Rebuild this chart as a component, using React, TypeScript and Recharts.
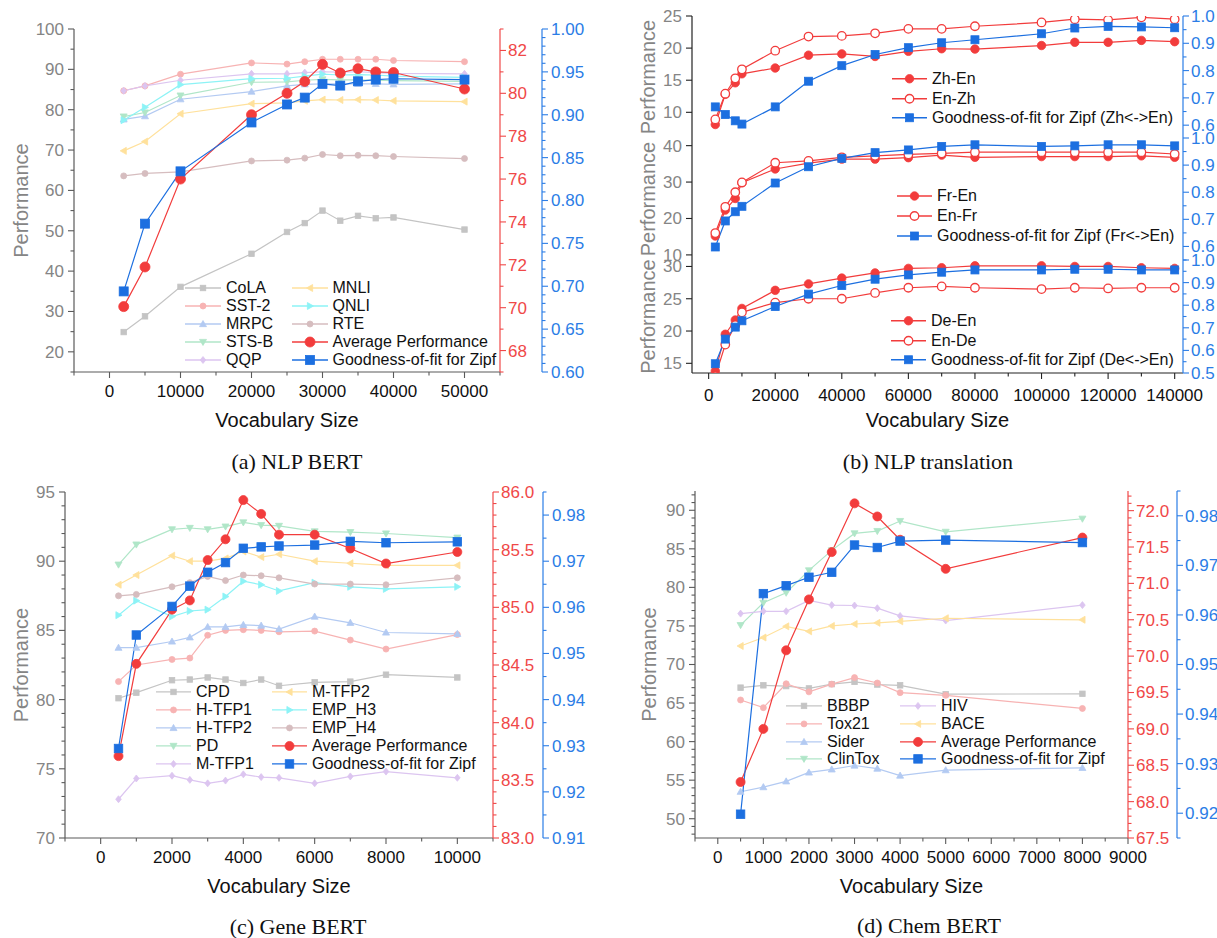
import React from "react";
import { LineChart, Line, XAxis, YAxis, Legend } from "recharts";

type Shape = "circle" | "square" | "up" | "down" | "left" | "right" | "diamond";

const FONT = '"Liberation Sans", Arial, sans-serif';
const RED = "#f23c3c";
const BLUE = "#1c6fe0";
const RED_AX = "#f04848";
const BLUE_AX = "#2b7de6";
const GRAY_TXT = "#858585";
const FRAME = "#5a5a5a";

const C_GRAY = "#c4c4c4";
const C_PINK = "#f7b3b3";
const C_LBLUE = "#b3caf2";
const C_GREEN = "#b0e6c8";
const C_LAV = "#dcc5f0";
const C_YEL = "#ffe19c";
const C_CYAN = "#8df3f6";
const C_MAUVE = "#d6bdbf";

// (a) NLP BERT
const vocabA = [2000, 5000, 10000, 20000, 25000, 27500, 30000, 32500, 35000, 37500, 40000, 50000];
const cola = [24.9, 28.8, 36.1, 44.3, 49.7, 51.9, 55.0, 52.5, 53.7, 53.1, 53.3, 50.3];
const sst2 = [84.7, 85.9, 88.8, 91.6, 91.3, 91.9, 92.5, 92.5, 92.5, 92.5, 92.2, 91.9];
const mrpc = [77.6, 78.4, 82.6, 84.5, 85.9, 86.3, 86.4, 86.4, 86.4, 86.4, 86.3, 86.4];
const stsb = [78.3, 79.3, 83.5, 86.8, 86.9, 87.3, 87.5, 87.4, 87.4, 87.3, 87.2, 87.0];
const qqp = [84.7, 85.9, 87.3, 88.9, 88.9, 89.2, 89.4, 89.3, 89.4, 89.2, 89.0, 88.9];
const mnli = [69.8, 72.1, 79.0, 81.5, 81.7, 82.2, 82.5, 82.4, 82.5, 82.4, 82.2, 82.0];
const qnli = [77.4, 80.6, 86.2, 87.7, 87.8, 88.3, 88.8, 88.6, 88.7, 88.6, 88.3, 88.0];
const rte = [63.6, 64.2, 64.6, 67.3, 67.5, 68.0, 68.9, 68.6, 68.7, 68.6, 68.4, 67.9];
const avgA = [70.05, 71.9, 76.0, 79.0, 80.0, 80.55, 81.35, 80.95, 81.15, 81.0, 80.97, 80.2];
const zipfA = [0.694, 0.773, 0.834, 0.891, 0.912, 0.92, 0.936, 0.934, 0.939, 0.941, 0.942, 0.941];

// (b) NLP translation
const vocabB = [2000, 5000, 8000, 10000, 20000, 30000, 40000, 50000, 60000, 70000, 80000, 100000, 110000, 120000, 130000, 140000];
const zhEn = [8.1, 12.8, 14.6, 16.0, 16.9, 18.9, 19.1, 18.7, 19.5, 19.9, 19.85, 20.4, 20.9, 20.9, 21.2, 21.0];
const enZh = [8.9, 12.9, 15.3, 16.7, 19.6, 21.8, 21.9, 22.3, 23.0, 23.0, 23.4, 24.0, 24.5, 24.4, 24.8, 24.5];
const zipfZh = [0.667, 0.639, 0.616, 0.604, 0.667, 0.761, 0.818, 0.859, 0.884, 0.902, 0.913, 0.935, 0.956, 0.962, 0.96, 0.957];
const frEn = [15.2, 22.3, 25.5, 29.8, 33.6, 35.2, 36.3, 36.3, 36.7, 37.4, 36.8, 37.0, 37.0, 37.0, 37.2, 36.8];
const enFr = [16.0, 23.2, 27.2, 29.9, 35.3, 35.8, 36.8, 37.2, 37.6, 37.9, 38.2, 38.2, 38.2, 38.2, 38.2, 37.7];
const zipfFr = [0.598, 0.694, 0.728, 0.748, 0.834, 0.894, 0.925, 0.946, 0.956, 0.969, 0.975, 0.969, 0.971, 0.975, 0.975, 0.971];
const deEn = [13.8, 19.5, 21.7, 23.5, 26.3, 27.3, 28.2, 29.0, 29.7, 29.8, 30.1, 30.1, 30.0, 30.0, 29.8, 29.7];
const enDe = [13.0, 17.9, 20.9, 22.9, 24.4, 25.0, 25.0, 25.9, 26.7, 26.9, 26.7, 26.5, 26.7, 26.6, 26.7, 26.7];
const zipfDe = [0.541, 0.65, 0.703, 0.731, 0.794, 0.849, 0.887, 0.915, 0.934, 0.946, 0.956, 0.956, 0.959, 0.959, 0.956, 0.956];

// (c) Gene BERT
const vocabC = [500, 1000, 2000, 2500, 3000, 3500, 4000, 4500, 5000, 6000, 7000, 8000, 10000];
const cpd = [80.1, 80.5, 81.4, 81.45, 81.6, 81.45, 81.2, 81.45, 81.0, 81.25, 81.3, 81.8, 81.6];
const htfp1 = [81.3, 82.5, 82.9, 83.0, 84.65, 85.0, 85.05, 85.0, 84.9, 84.95, 84.3, 83.65, 84.7];
const htfp2 = [83.75, 83.75, 84.2, 84.5, 85.25, 85.25, 85.4, 85.35, 85.1, 86.0, 85.55, 84.85, 84.75];
const pd = [89.75, 91.2, 92.3, 92.4, 92.3, 92.5, 92.8, 92.6, 92.55, 92.15, 92.1, 92.0, 91.7];
const mtfp1 = [72.8, 74.3, 74.5, 74.2, 73.95, 74.15, 74.6, 74.4, 74.35, 73.95, 74.45, 74.8, 74.35];
const mtfp2 = [88.3, 89.0, 90.4, 90.0, 90.0, 90.2, 90.7, 90.3, 90.5, 90.0, 89.85, 89.7, 89.7];
const empH3 = [86.1, 87.15, 86.0, 86.4, 86.5, 87.45, 88.55, 88.3, 87.85, 88.45, 88.15, 88.0, 88.15];
const empH4 = [87.5, 87.6, 88.15, 88.45, 88.9, 88.6, 89.0, 88.95, 88.8, 88.35, 88.35, 88.3, 88.8];
const avgC = [83.71, 84.51, 84.98, 85.06, 85.41, 85.59, 85.93, 85.81, 85.63, 85.63, 85.51, 85.38, 85.48];
const zipfC = [0.9294, 0.954, 0.9602, 0.9646, 0.9676, 0.9697, 0.9728, 0.9731, 0.9733, 0.9735, 0.9743, 0.974, 0.9742];

// (d) Chem BERT
const vocabD = [500, 1000, 1500, 2000, 2500, 3000, 3500, 4000, 5000, 8000];
const bbbp = [67.0, 67.3, 67.2, 66.9, 67.45, 67.75, 67.4, 67.3, 66.15, 66.2];
const tox21 = [65.4, 64.4, 67.5, 66.45, 67.45, 68.3, 67.6, 66.35, 66.0, 64.3];
const sider = [53.5, 54.1, 54.85, 56.0, 56.4, 56.9, 56.5, 55.6, 56.3, 56.6];
const clintox = [75.1, 78.0, 79.3, 82.2, 84.8, 87.0, 87.3, 88.6, 87.2, 88.9];
const hiv = [76.6, 76.9, 76.9, 78.3, 77.7, 77.65, 77.3, 76.3, 75.7, 77.7];
const bace = [72.4, 73.5, 74.95, 74.3, 75.0, 75.25, 75.4, 75.6, 76.0, 75.8];
const avgD = [68.27, 69.0, 70.08, 70.78, 71.43, 72.1, 71.92, 71.6, 71.2, 71.63];
const zipfD = [0.9198, 0.9643, 0.9659, 0.9676, 0.9686, 0.9741, 0.9736, 0.9749, 0.9751, 0.9746];

const steps = (a: number, b: number, s: number) => {
  const out: number[] = [];
  for (let v = a; v <= b + s * 1e-6; v += s) out.push(Math.round(v * 1e6) / 1e6);
  return out;
};
const without = (arr: number[], skip: number[]) =>
  arr.filter((v) => !skip.some((m) => Math.abs(m - v) < 1e-7));

const Marker = ({ cx, cy, shape, color, size, open }: any) => {
  const r = size / 2;
  const fill = open ? "#fff" : color;
  const sw = open ? 1.3 : 0.8;
  if (shape === "circle") return <circle cx={cx} cy={cy} r={r} fill={fill} stroke={color} strokeWidth={sw} />;
  if (shape === "square") return <rect x={cx - r} y={cy - r} width={size} height={size} fill={fill} stroke={color} strokeWidth={sw} />;
  let pts = "";
  if (shape === "up") pts = `${cx},${cy - r} ${cx + r},${cy + r * 0.75} ${cx - r},${cy + r * 0.75}`;
  if (shape === "down") pts = `${cx},${cy + r} ${cx + r},${cy - r * 0.75} ${cx - r},${cy - r * 0.75}`;
  if (shape === "left") pts = `${cx - r},${cy} ${cx + r * 0.75},${cy - r} ${cx + r * 0.75},${cy + r}`;
  if (shape === "right") pts = `${cx + r},${cy} ${cx - r * 0.75},${cy - r} ${cx - r * 0.75},${cy + r}`;
  if (shape === "diamond") pts = `${cx},${cy - r} ${cx + r * 0.8},${cy} ${cx},${cy + r} ${cx - r * 0.8},${cy}`;
  return <polygon points={pts} fill={fill} stroke={color} strokeWidth={sw} />;
};

const makeTick = (
  side: "left" | "right" | "bottom" | "top",
  dir: "in" | "out",
  majors: number[],
  opts: { text: string; line: string; gap: number; fmt: (v: number) => string; labels: boolean; fontSize?: number }
) => (props: any) => {
  const { x, y, payload, index } = props;
  const v = payload.value;
  const major = majors.some((m) => Math.abs(m - v) < 1e-7);
  const len = major ? 6 : 3.5;
  const s = dir === "out" ? 1 : -1;
  const fs = opts.fontSize ?? 17;
  let ln = null;
  let lb = null;
  if (side === "left") {
    ln = <line x1={x} x2={x - s * len} y1={y} y2={y} stroke={opts.line} strokeWidth={1.1} />;
    if (major && opts.labels)
      lb = <text x={x - opts.gap} y={y} dy="0.35em" textAnchor="end" fill={opts.text} fontSize={fs}>{opts.fmt(v)}</text>;
  } else if (side === "right") {
    ln = <line x1={x} x2={x + s * len} y1={y} y2={y} stroke={opts.line} strokeWidth={1.1} />;
    if (major && opts.labels)
      lb = <text x={x + opts.gap} y={y} dy="0.35em" textAnchor="start" fill={opts.text} fontSize={fs}>{opts.fmt(v)}</text>;
  } else if (side === "bottom") {
    ln = <line x1={x} x2={x} y1={y} y2={y + s * len} stroke={opts.line} strokeWidth={1.1} />;
    if (major && opts.labels)
      lb = <text x={x} y={y + opts.gap} dy="0.35em" textAnchor="middle" fill={opts.text} fontSize={fs}>{opts.fmt(v)}</text>;
  } else {
    ln = <line x1={x} x2={x} y1={y} y2={y - s * len} stroke={opts.line} strokeWidth={1.1} />;
  }
  return (
    <g key={`t-${side}-${index}`}>
      {ln}
      {lb}
    </g>
  );
};

interface Series {
  key: string;
  name: string;
  y: string;
  color: string;
  shape: Shape;
  size: number;
  open?: boolean;
}

interface AxisCfg {
  id: string;
  domain: [number, number];
  majors: number[];
  minors: number[];
  width: number;
  text: string;
  line: string;
  gap: number;
  fmt: (v: number) => string;
}

const LegendBox = ({ cols, colX, rowH, lineW }: any) => (
  <div style={{ position: "relative", fontFamily: FONT, fontSize: 16, color: "#111" }}>
    {cols.map((col: Series[], ci: number) =>
      col.map((s: Series, ri: number) => (
        <div
          key={s.key}
          style={{
            position: "absolute",
            left: colX[ci],
            top: ri * rowH,
            height: rowH,
            display: "flex",
            alignItems: "center",
            whiteSpace: "nowrap",
          }}
        >
          <svg width={lineW} height={rowH} style={{ overflow: "visible" }}>
            <line x1={0} x2={lineW} y1={rowH / 2} y2={rowH / 2} stroke={s.color} strokeWidth={1.3} />
            <Marker cx={lineW / 2} cy={rowH / 2} shape={s.shape} color={s.color} size={s.size} open={s.open} />
          </svg>
          <span style={{ marginLeft: 5, lineHeight: `${rowH}px` }}>{s.name}</span>
        </div>
      ))
    )}
  </div>
);

const Panel = (p: any) => {
  const xt = [...p.x.majors, ...p.x.minors].sort((a: number, b: number) => a - b);
  const yTicks = (a: AxisCfg) => [...a.majors, ...a.minors].sort((u, v) => u - v);
  const yl: AxisCfg & { title: string; titleX: number } = p.yLeft;
  return (
    <div style={{ position: "absolute", left: p.left, top: p.top }}>
      <LineChart width={p.width} height={p.height} data={p.rows} margin={{ top: p.marginTop, right: 0, bottom: 0, left: 0 }}>
        <XAxis
          dataKey="x"
          type="number"
          domain={p.x.domain}
          allowDataOverflow
          ticks={xt}
          interval={0}
          height={p.x.height}
          tickSize={0}
          tickMargin={0}
          tickLine={false}
          axisLine={{ stroke: p.x.line, strokeWidth: 1.2 }}
          tick={makeTick("bottom", p.x.dir, p.x.majors, {
            text: "#111",
            line: p.x.line,
            gap: p.x.gap,
            fmt: (v) => String(v),
            labels: p.x.labels,
          })}
          label={
            p.x.title
              ? { value: p.x.title, position: "insideBottom", offset: p.x.titleOffset, fill: "#111", fontSize: 20 }
              : undefined
          }
        />
        {p.x.frame && (
          <XAxis
            xAxisId="top"
            orientation="top"
            dataKey="x"
            type="number"
            domain={p.x.domain}
            allowDataOverflow
            ticks={xt}
            interval={0}
            height={0}
            tickSize={0}
            tickMargin={0}
            tickLine={false}
            axisLine={{ stroke: p.x.line, strokeWidth: 1.2 }}
            tick={makeTick("top", "in", p.x.majors, {
              text: "#111",
              line: p.x.line,
              gap: 0,
              fmt: (v) => String(v),
              labels: false,
            })}
          />
        )}
        <YAxis
          yAxisId="l"
          type="number"
          domain={yl.domain}
          allowDataOverflow
          ticks={yTicks(yl)}
          interval={0}
          width={yl.width}
          tickSize={0}
          tickMargin={0}
          tickLine={false}
          axisLine={{ stroke: yl.line, strokeWidth: 1.2 }}
          tick={makeTick("left", "out", yl.majors, { text: yl.text, line: yl.line, gap: yl.gap, fmt: yl.fmt, labels: true })}
          label={{
            value: yl.title,
            angle: -90,
            position: "insideLeft",
            offset: yl.titleX,
            style: { textAnchor: "middle" },
            fill: GRAY_TXT,
            fontSize: 20,
          }}
        />
        {p.yRight.map((a: AxisCfg) => (
          <YAxis
            key={a.id}
            yAxisId={a.id}
            orientation="right"
            type="number"
            domain={a.domain}
            allowDataOverflow
            ticks={yTicks(a)}
            interval={0}
            width={a.width}
            tickSize={0}
            tickMargin={0}
            tickLine={false}
            axisLine={{ stroke: a.line, strokeWidth: 1.2 }}
            tick={makeTick("right", "out", a.majors, { text: a.text, line: a.line, gap: a.gap, fmt: a.fmt, labels: true })}
          />
        ))}
        {p.series.map((s: Series) => (
          <Line
            key={s.key}
            yAxisId={s.y}
            dataKey={s.key}
            name={s.name}
            type="linear"
            stroke={s.color}
            strokeWidth={1.2}
            isAnimationActive={false}
            activeDot={false}
            dot={(d: any) => (
              <Marker key={`${s.key}-${d.index}`} cx={d.cx} cy={d.cy} shape={s.shape} color={s.color} size={s.size} open={s.open} />
            )}
          />
        ))}
        <Legend
          layout="horizontal"
          verticalAlign="middle"
          align="center"
          wrapperStyle={{ left: p.legend.left, top: p.legend.top, width: 320, height: 100 }}
          content={() => (
            <LegendBox cols={p.legend.cols} colX={p.legend.colX} rowH={p.legend.rowH} lineW={p.legend.lineW} />
          )}
        />
      </LineChart>
    </div>
  );
};

const toRows = (xs: number[], cols: Record<string, number[]>) =>
  xs.map((x, i) => {
    const r: Record<string, number> = { x };
    Object.keys(cols).forEach((k) => (r[k] = cols[k][i]));
    return r;
  });

const int = (v: number) => String(v);
const f1 = (v: number) => v.toFixed(1);
const f2 = (v: number) => v.toFixed(2);

// ---- panel (a)
const seriesA: Series[] = [
  { key: "cola", name: "CoLA", y: "l", color: C_GRAY, shape: "square", size: 5.5 },
  { key: "sst2", name: "SST-2", y: "l", color: C_PINK, shape: "circle", size: 6 },
  { key: "mrpc", name: "MRPC", y: "l", color: C_LBLUE, shape: "up", size: 7 },
  { key: "stsb", name: "STS-B", y: "l", color: C_GREEN, shape: "down", size: 7 },
  { key: "qqp", name: "QQP", y: "l", color: C_LAV, shape: "diamond", size: 7 },
  { key: "mnli", name: "MNLI", y: "l", color: C_YEL, shape: "left", size: 7 },
  { key: "qnli", name: "QNLI", y: "l", color: C_CYAN, shape: "right", size: 7 },
  { key: "rte", name: "RTE", y: "l", color: C_MAUVE, shape: "circle", size: 6 },
  { key: "avg", name: "Average Performance", y: "r", color: RED, shape: "circle", size: 10 },
  { key: "zipf", name: "Goodness-of-fit for Zipf", y: "z", color: BLUE, shape: "square", size: 9 },
];

// ---- panel (c)
const seriesC: Series[] = [
  { key: "cpd", name: "CPD", y: "l", color: C_GRAY, shape: "square", size: 5.5 },
  { key: "htfp1", name: "H-TFP1", y: "l", color: C_PINK, shape: "circle", size: 6 },
  { key: "htfp2", name: "H-TFP2", y: "l", color: C_LBLUE, shape: "up", size: 7 },
  { key: "pd", name: "PD", y: "l", color: C_GREEN, shape: "down", size: 7 },
  { key: "mtfp1", name: "M-TFP1", y: "l", color: C_LAV, shape: "diamond", size: 7 },
  { key: "mtfp2", name: "M-TFP2", y: "l", color: C_YEL, shape: "left", size: 7 },
  { key: "empH3", name: "EMP_H3", y: "l", color: C_CYAN, shape: "right", size: 7 },
  { key: "empH4", name: "EMP_H4", y: "l", color: C_MAUVE, shape: "circle", size: 6 },
  { key: "avg", name: "Average Performance", y: "r", color: RED, shape: "circle", size: 9 },
  { key: "zipf", name: "Goodness-of-fit for Zipf", y: "z", color: BLUE, shape: "square", size: 8.5 },
];

// ---- panel (d)
const seriesD: Series[] = [
  { key: "bbbp", name: "BBBP", y: "l", color: C_GRAY, shape: "square", size: 5.5 },
  { key: "tox21", name: "Tox21", y: "l", color: C_PINK, shape: "circle", size: 6 },
  { key: "sider", name: "Sider", y: "l", color: C_LBLUE, shape: "up", size: 7 },
  { key: "clintox", name: "ClinTox", y: "l", color: C_GREEN, shape: "down", size: 7 },
  { key: "hiv", name: "HIV", y: "l", color: C_LAV, shape: "diamond", size: 7 },
  { key: "bace", name: "BACE", y: "l", color: C_YEL, shape: "left", size: 7 },
  { key: "avg", name: "Average Performance", y: "r", color: RED, shape: "circle", size: 9 },
  { key: "zipf", name: "Goodness-of-fit for Zipf", y: "z", color: BLUE, shape: "square", size: 8.5 },
];

const transSeries = (a: string, b: string, pair: string): Series[] => [
  { key: "fwd", name: a, y: "l", color: RED, shape: "circle", size: 8.5 },
  { key: "bwd", name: b, y: "l", color: RED, shape: "circle", size: 8.5, open: true },
  { key: "zipf", name: `Goodness-of-fit for Zipf (${pair})`, y: "z", color: BLUE, shape: "square", size: 8 },
];

const leftAx = (domain: [number, number], majors: number[], minors: number[], width: number, line: string, titleX: number) => ({
  id: "l",
  domain,
  majors,
  minors: without(minors, majors),
  width,
  text: GRAY_TXT,
  line,
  gap: 10,
  fmt: int,
  title: "Performance",
  titleX,
});
const rightAx = (id: string, domain: [number, number], majors: number[], minors: number[], width: number, color: string, fmt: (v: number) => string, gap: number): AxisCfg => ({
  id,
  domain,
  majors,
  minors: without(minors, majors),
  width,
  text: color,
  line: color,
  gap,
  fmt,
});

const B_X_MAJ = steps(0, 140000, 20000);
const B_X_MIN = without(steps(10000, 140000, 20000), B_X_MAJ);

const BTrans = ({ top, height, marginTop, xHeight, bottom, rows, domL, majL, domR, majR, minR, a, b, pair, legendTop, legendLeft, rowH }: any) => (
  <Panel
    left={620}
    top={top}
    width={597}
    height={height}
    marginTop={marginTop}
    rows={rows}
    x={{
      domain: [-5000, 142500],
      majors: B_X_MAJ,
      minors: B_X_MIN,
      height: xHeight,
      labels: bottom,
      dir: bottom ? "out" : "in",
      gap: 22,
      line: "#222",
      frame: top === 0,
      title: bottom ? "Vocabulary Size" : undefined,
      titleOffset: 18,
    }}
    yLeft={leftAx(domL, majL, [], 72, "#222", 28)}
    yRight={[rightAx("z", domR, majR, minR, 34, BLUE_AX, f1, 8)]}
    series={transSeries(a, b, pair)}
    legend={{ left: legendLeft, top: legendTop, rowH, colX: [0], lineW: 35, cols: [transSeries(a, b, pair)] }}
  />
);

const Caption = ({ x, y, text }: any) => (
  <div
    style={{
      position: "absolute",
      left: x - 150,
      top: y - 14,
      width: 300,
      textAlign: "center",
      fontFamily: '"Liberation Serif", "Times New Roman", serif',
      fontSize: 22,
      lineHeight: "28px",
      color: "#111",
    }}
  >
    {text}
  </div>
);

export default function App() {
  const rowsA = toRows(vocabA, { cola, sst2, mrpc, stsb, qqp, mnli, qnli, rte, avg: avgA, zipf: zipfA });
  const rowsC = toRows(vocabC, { cpd, htfp1, htfp2, pd, mtfp1, mtfp2, empH3, empH4, avg: avgC, zipf: zipfC });
  const rowsD = toRows(vocabD, { bbbp, tox21, sider, clintox, hiv, bace, avg: avgD, zipf: zipfD });
  const rowsZh = toRows(vocabB, { fwd: zhEn, bwd: enZh, zipf: zipfZh });
  const rowsFr = toRows(vocabB, { fwd: frEn, bwd: enFr, zipf: zipfFr });
  const rowsDe = toRows(vocabB, { fwd: deEn, bwd: enDe, zipf: zipfDe });

  return (
    <div style={{ position: "absolute", left: 0, top: 0, width: 1217, height: 938, background: "#fff", fontFamily: FONT }}>
      <style>{`.recharts-surface{overflow:visible}.recharts-wrapper text{font-family:${FONT}}`}</style>

      <Panel
        left={0}
        top={0}
        width={600}
        height={445}
        marginTop={29}
        rows={rowsA}
        x={{
          domain: [-5000, 55000],
          majors: steps(0, 50000, 10000),
          minors: steps(-5000, 55000, 10000),
          height: 73,
          labels: true,
          dir: "out",
          gap: 19,
          line: FRAME,
          frame: true,
          title: "Vocabulary Size",
          titleOffset: 18,
        }}
        yLeft={leftAx([15, 100], steps(20, 100, 10), steps(15, 95, 10), 74, FRAME, 21)}
        yRight={[
          rightAx("r", [67, 83], steps(68, 82, 2), steps(67, 83, 1), 42, RED_AX, int, 8),
          rightAx("z", [0.6, 1.0], steps(0.6, 1.0, 0.05), steps(0.6, 1.0, 0.01), 58, BLUE_AX, f2, 9),
        ]}
        series={seriesA}
        legend={{ left: 185, top: 279, rowH: 18, colX: [0, 106.5], lineW: 36, cols: [seriesA.slice(0, 5), seriesA.slice(5)] }}
      />

      <BTrans
        top={0}
        height={138}
        marginTop={16}
        xHeight={0}
        bottom={false}
        rows={rowsZh}
        domL={[6, 25]}
        majL={steps(10, 25, 5)}
        domR={[0.553, 1.0]}
        majR={steps(0.6, 1.0, 0.1)}
        minR={steps(0.65, 0.95, 0.1)}
        a="Zh-En"
        b="En-Zh"
        pair="Zh<->En"
        legendLeft={272}
        legendTop={69}
        rowH={19.5}
      />
      <BTrans
        top={138}
        height={122}
        marginTop={0}
        xHeight={0}
        bottom={false}
        rows={rowsFr}
        domL={[8.6, 42.1]}
        majL={steps(10, 40, 10)}
        domR={[0.55, 1.0]}
        majR={steps(0.6, 1.0, 0.1)}
        minR={steps(0.55, 0.95, 0.1)}
        a="Fr-En"
        b="En-Fr"
        pair="Fr<->En"
        legendLeft={277}
        legendTop={48}
        rowH={20}
      />
      <BTrans
        top={260}
        height={185}
        marginTop={0}
        xHeight={72}
        bottom={true}
        rows={rowsDe}
        domL={[13.5, 31]}
        majL={steps(15, 30, 5)}
        domR={[0.5, 1.0]}
        majR={steps(0.5, 1.0, 0.1)}
        minR={steps(0.55, 0.95, 0.1)}
        a="De-En"
        b="En-De"
        pair="De<->En"
        legendLeft={271}
        legendTop={51}
        rowH={19.5}
      />

      <Panel
        left={0}
        top={465}
        width={600}
        height={445}
        marginTop={27}
        rows={rowsC}
        x={{
          domain: [-1000, 11000],
          majors: steps(0, 10000, 2000),
          minors: steps(-1000, 11000, 2000),
          height: 72,
          labels: true,
          dir: "out",
          gap: 19,
          line: FRAME,
          frame: true,
          title: "Vocabulary Size",
          titleOffset: 17,
        }}
        yLeft={leftAx([70, 95], steps(70, 95, 5), steps(70, 95, 1), 65, FRAME, 21)}
        yRight={[
          rightAx("r", [83, 86], steps(83, 86, 0.5), steps(83, 86, 0.1), 50, RED_AX, f1, 8),
          rightAx("z", [0.91, 0.985], steps(0.91, 0.98, 0.01), steps(0.915, 0.985, 0.01), 57, BLUE_AX, f2, 9),
        ]}
        series={seriesC}
        legend={{ left: 156, top: 218, rowH: 17.9, colX: [0, 116], lineW: 35, cols: [seriesC.slice(0, 5), seriesC.slice(5)] }}
      />

      <Panel
        left={620}
        top={465}
        width={597}
        height={445}
        marginTop={26}
        rows={rowsD}
        x={{
          domain: [-500, 9000],
          majors: steps(0, 9000, 1000),
          minors: steps(-500, 8500, 1000),
          height: 72,
          labels: true,
          dir: "out",
          gap: 19,
          line: FRAME,
          frame: true,
          title: "Vocabulary Size",
          titleOffset: 17,
        }}
        yLeft={leftAx([47.5, 92.5], steps(50, 90, 5), steps(48, 92, 1), 75, FRAME, 29)}
        yRight={[
          rightAx("r", [67.5, 72.27], steps(67.5, 72, 0.5), steps(67.5, 72.2, 0.1), 49, RED_AX, f1, 8),
          rightAx("z", [0.915, 0.985], steps(0.92, 0.98, 0.01), steps(0.915, 0.985, 0.01), 40, BLUE_AX, f2, 8),
        ]}
        series={seriesD}
        legend={{ left: 166, top: 232, rowH: 17.8, colX: [0, 114], lineW: 36, cols: [seriesD.slice(0, 4), seriesD.slice(4)] }}
      />

      <Caption x={297} y={462} text="(a) NLP BERT" />
      <Caption x={928} y={462} text="(b) NLP translation" />
      <Caption x={298} y={927} text="(c) Gene BERT" />
      <Caption x={929} y={926} text="(d) Chem BERT" />
    </div>
  );
}
